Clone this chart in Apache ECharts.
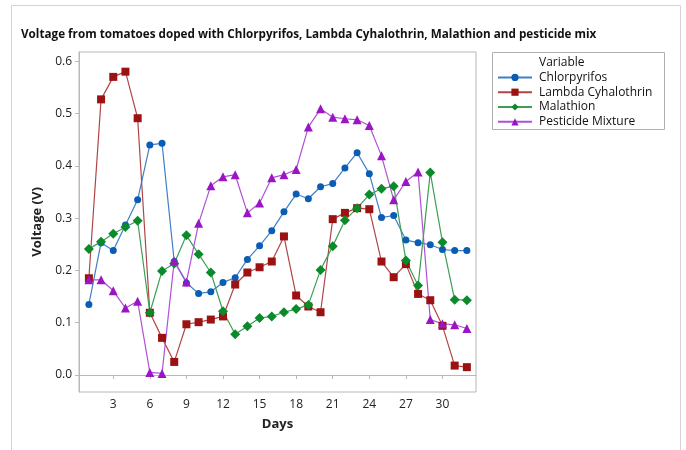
<!DOCTYPE html>
<html>
<head>
<meta charset="utf-8">
<script src="https://cdn.jsdelivr.net/npm/echarts@6/dist/echarts.min.js"></script>
<style>
  html, body { margin: 0; padding: 0; background: #fff; }
  #chart { width: 686px; height: 450px; }
</style>
</head>
<body>
<div id="chart"></div>
<script>
// days 1..32
var days = [1, 2, 3, 4, 5, 6, 7, 8, 9, 10, 11, 12, 13, 14, 15, 16,
  17, 18, 19, 20, 21, 22, 23, 24, 25, 26, 27, 28, 29, 30, 31, 32]
var chlorpyrifos = [0.135, 0.253, 0.238, 0.287, 0.335, 0.440, 0.443, 0.217, 0.176, 0.156, 0.159, 0.177, 0.186, 0.221, 0.247, 0.276,
  0.312, 0.346, 0.337, 0.360, 0.366, 0.396, 0.425, 0.385, 0.301, 0.305, 0.258, 0.253, 0.249, 0.240, 0.238, 0.238]
var lambda = [0.185, 0.527, 0.570, 0.580, 0.491, 0.119, 0.071, 0.025, 0.097, 0.101, 0.106, 0.112, 0.173, 0.196, 0.206, 0.217,
  0.265, 0.152, 0.131, 0.120, 0.298, 0.310, 0.319, 0.317, 0.217, 0.187, 0.212, 0.155, 0.143, 0.094, 0.018, 0.015]
var malathion = [0.241, 0.255, 0.270, 0.283, 0.295, 0.119, 0.199, 0.213, 0.267, 0.231, 0.196, 0.122, 0.078, 0.093, 0.109, 0.112,
  0.120, 0.126, 0.134, 0.201, 0.246, 0.296, 0.319, 0.345, 0.356, 0.361, 0.219, 0.171, 0.387, 0.254, 0.144, 0.143]
var mixture = [0.182, 0.182, 0.161, 0.128, 0.141, 0.005, 0.003, 0.218, 0.178, 0.290, 0.362, 0.379, 0.383, 0.310, 0.329, 0.377,
  0.383, 0.393, 0.474, 0.509, 0.493, 0.490, 0.488, 0.477, 0.419, 0.335, 0.370, 0.388, 0.106, 0.098, 0.096, 0.089]

var xTicks = [3, 6, 9, 12, 15, 18, 21, 24, 27, 30]
var yTicks = [0, 0.1, 0.2, 0.3, 0.4, 0.5, 0.6]

var names = ['Chlorpyrifos', 'Lambda Cyhalothrin', 'Malathion', 'Pesticide Mixture']
var colors = ['#0a5db5', '#9c1212', '#0b8a2a', '#9a16c4']
var lineColors = ['#3f7fc8', '#b04545', '#3d9e55', '#b050d6']
var symbols = ['circle', 'rect', 'diamond', 'triangle']
var sizes = [7, 8, 10, 9]
var allValues = [chlorpyrifos, lambda, malathion, mixture]

function pairs (vals) {
  return days.map(function (d, i) { return [d, vals[i]] })
}

var chartDom = document.getElementById('chart')
var myChart = echarts.init(chartDom)
var font = '"Open Sans", "Noto Sans", sans-serif'
var option

option = {
  animation: false,
  textStyle: { fontFamily: font },
  title: {
    text: 'Voltage from tomatoes doped with Chlorpyrifos, Lambda Cyhalothrin, Malathion and pesticide mix',
    left: 16,
    top: 24,
    textStyle: { fontSize: 11.7, fontWeight: 'bold', color: '#111', fontFamily: font }
  },
  graphic: [
    {
      type: 'rect',
      shape: { x: 11.5, y: 5.5, width: 669, height: 460 },
      style: { fill: 'none', stroke: '#d4d4d4', lineWidth: 1 },
      silent: true
    },
    {
      type: 'rect',
      shape: { x: 492.5, y: 52.5, width: 172, height: 77 },
      style: { fill: 'none', stroke: '#b0b0b0', lineWidth: 1 },
      silent: true
    },
    {
      type: 'text',
      left: 539,
      top: 57,
      style: { text: 'Variable', fontSize: 12, fill: '#111', fontFamily: font }
    }
  ],
  legend: {
    data: names,
    orient: 'vertical',
    left: 492,
    top: 65,
    itemWidth: 34,
    itemHeight: 9,
    itemGap: 0,
    textStyle: { fontSize: 12, color: '#111', fontFamily: font, lineHeight: 14.8, padding: [0, 0, 0, 2] }
  },
  grid: {
    left: 79,
    top: 52,
    right: 210,
    bottom: 58,
    show: true,
    borderColor: '#b8b8b8',
    borderWidth: 1
  },
  xAxis: {
    type: 'value',
    min: 0.19,
    max: 32.75,
    name: 'Days',
    nameLocation: 'middle',
    nameGap: 26,
    nameTextStyle: { fontSize: 13, fontWeight: 'bold', color: '#222' },
    axisLine: { lineStyle: { color: '#b8b8b8' } },
    axisTick: { show: true, length: 4, lineStyle: { color: '#b8b8b8' }, customValues: xTicks },
    axisLabel: { customValues: xTicks, fontSize: 12, color: '#222', margin: 7 },
    splitLine: { show: false }
  },
  yAxis: {
    type: 'value',
    min: -0.0325,
    max: 0.6176,
    name: 'Voltage (V)',
    nameLocation: 'middle',
    nameGap: 35,
    nameTextStyle: { fontSize: 13, fontWeight: 'bold', color: '#222' },
    axisLine: { show: true, lineStyle: { color: '#b8b8b8' } },
    axisTick: { show: true, length: 4, lineStyle: { color: '#b8b8b8' }, customValues: yTicks },
    axisLabel: {
      customValues: yTicks,
      fontSize: 12,
      color: '#222',
      margin: 7,
      formatter: function (v) { return v.toFixed(1) }
    },
    splitLine: { show: false }
  },
  series: names.map(function (n, i) {
    return {
      name: n,
      type: 'line',
      data: pairs(allValues[i]),
      symbol: symbols[i],
      symbolSize: sizes[i],
      showAllSymbol: true,
      itemStyle: { color: colors[i] },
      lineStyle: { color: lineColors[i], width: 1.2 }
    }
  })
}

option && myChart.setOption(option)
</script>
</body>
</html>
